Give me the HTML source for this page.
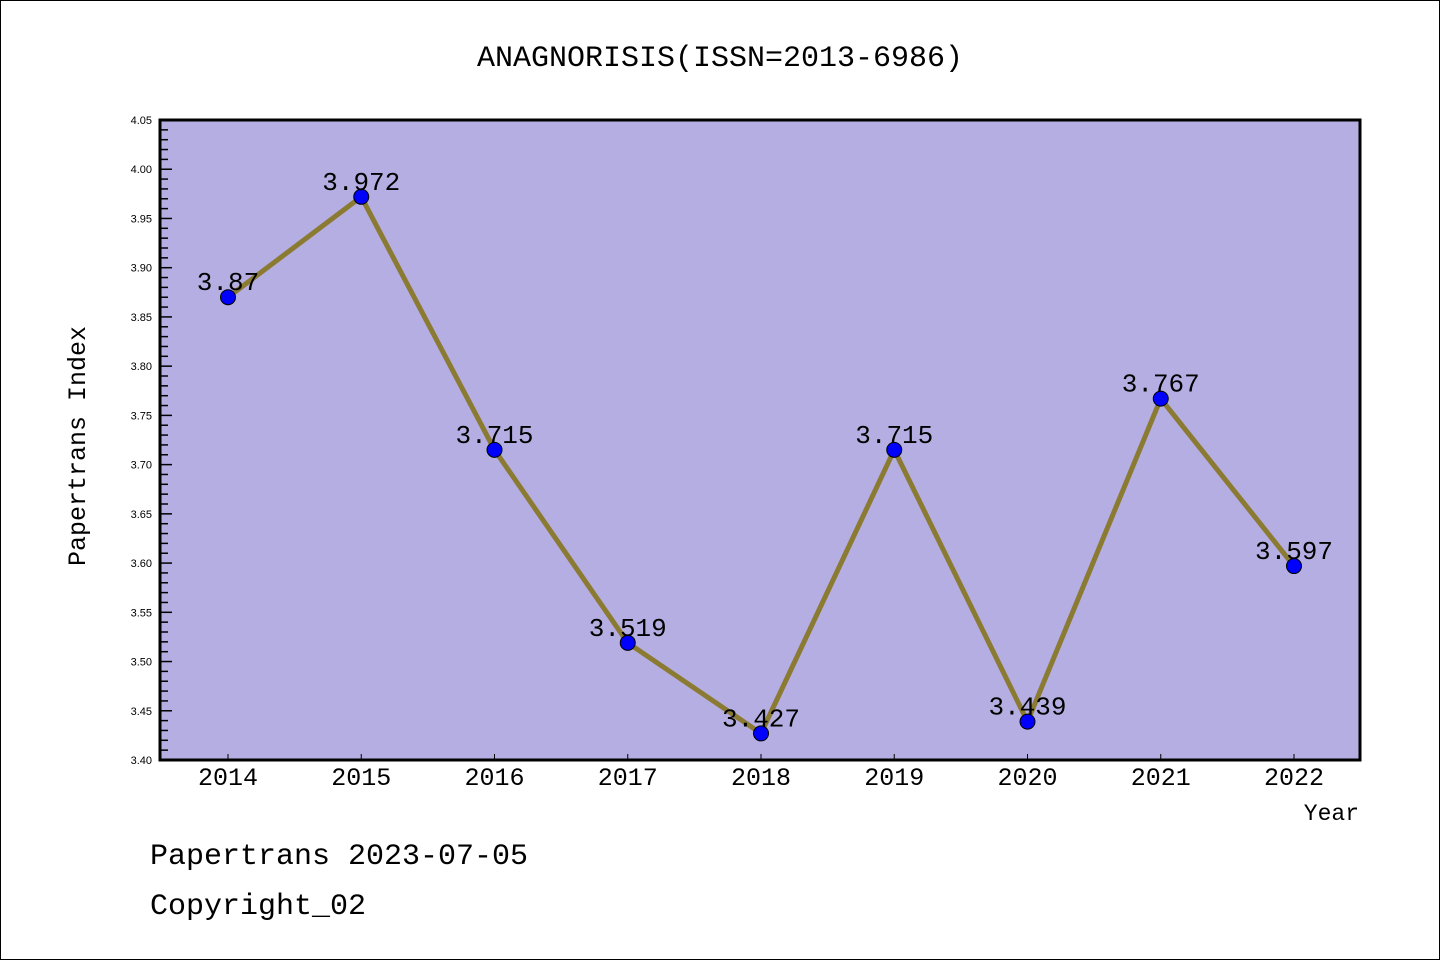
<!DOCTYPE html>
<html><head><meta charset="utf-8"><style>
html,body{margin:0;padding:0;background:#fff;}
svg{display:block;}
text{font-family:"Liberation Mono","DejaVu Sans Mono",monospace;}
text.sans{font-family:"Liberation Sans","DejaVu Sans",sans-serif;}
</style></head><body>
<svg id="chart" width="1440" height="960" xmlns="http://www.w3.org/2000/svg">
<rect x="0.5" y="0.5" width="1439" height="959" fill="#fff" stroke="#000" stroke-width="1"/>
<text x="720" y="66" text-anchor="middle" font-size="30">ANAGNORISIS(ISSN=2013-6986)</text>
<rect x="160" y="120" width="1200" height="640" fill="#b5aee2"/>
<g id="yaxis"></g>
<g id="xaxis"></g>
<g id="series"></g>
<rect x="160" y="120" width="1200" height="640" fill="none" stroke="#000" stroke-width="3"/>
<text transform="translate(85,446) rotate(-90)" text-anchor="middle" font-size="25">Papertrans Index</text>
<text x="1359" y="820" text-anchor="end" font-size="23">Year</text>
<text x="150" y="864" font-size="30">Papertrans 2023-07-05</text>
<text x="150" y="914" font-size="30">Copyright_02</text>
</svg>
<script>
const categories = ["2014","2015","2016","2017","2018","2019","2020","2021","2022"];
const values = [3.87,3.972,3.715,3.519,3.427,3.715,3.439,3.767,3.597];
const labels = ["3.87","3.972","3.715","3.519","3.427","3.715","3.439","3.767","3.597"];
const yTicks = ["3.40","3.45","3.50","3.55","3.60","3.65","3.70","3.75","3.80","3.85","3.90","3.95","4.00","4.05"];
const NS="http://www.w3.org/2000/svg";
const yMin=3.40,yMax=4.05,plotTop=120,plotBot=760;
function yPos(v){return plotBot-(v-yMin)/(yMax-yMin)*(plotBot-plotTop);}
function xPos(i){return 228+i*(1294-228)/(categories.length-1);}
function mk(tag,attrs,parent){const e=document.createElementNS(NS,tag);for(const k in attrs)e.setAttribute(k,attrs[k]);parent.appendChild(e);return e;}
const ya=document.getElementById('yaxis');
for(let k=0;k<=65;k++){const v=yMin+k*0.01;const yy=yPos(v);const major=k%5===0;
 const t=mk('line',{x1:160,x2:160+(major?12:8),y1:yy,y2:yy,stroke:'#000','stroke-width':1.5},ya);
 
 }
yTicks.forEach(s=>{const tx=mk('text',{x:152,y:yPos(parseFloat(s))+4,'text-anchor':'end','font-size':11,'class':'sans'},ya);tx.textContent=s;
 
 });
const xa=document.getElementById('xaxis');
categories.forEach((c,i)=>{const t=mk('line',{x1:xPos(i),x2:xPos(i),y1:760,y2:754,stroke:'#000','stroke-width':1},xa);
 
 
 const tx=mk('text',{x:xPos(i),y:785,'text-anchor':'middle','font-size':25},xa);tx.textContent=c;
 
 });
const sg=document.getElementById('series');
const pl=mk('polyline',{points:values.map((v,i)=>xPos(i)+','+yPos(v)).join(' '),fill:'none',stroke:'#8b7b32','stroke-width':5,'stroke-linejoin':'round'},sg);


values.forEach((v,i)=>{const c=mk('circle',{cx:xPos(i),cy:yPos(v),r:7.5,fill:'#0000ff',stroke:'#000','stroke-width':1},sg);
 
 
 const tx=mk('text',{x:xPos(i),y:yPos(v)-7,'text-anchor':'middle','font-size':26},sg);tx.textContent=labels[i];
 
 });
</script>
</body></html>
